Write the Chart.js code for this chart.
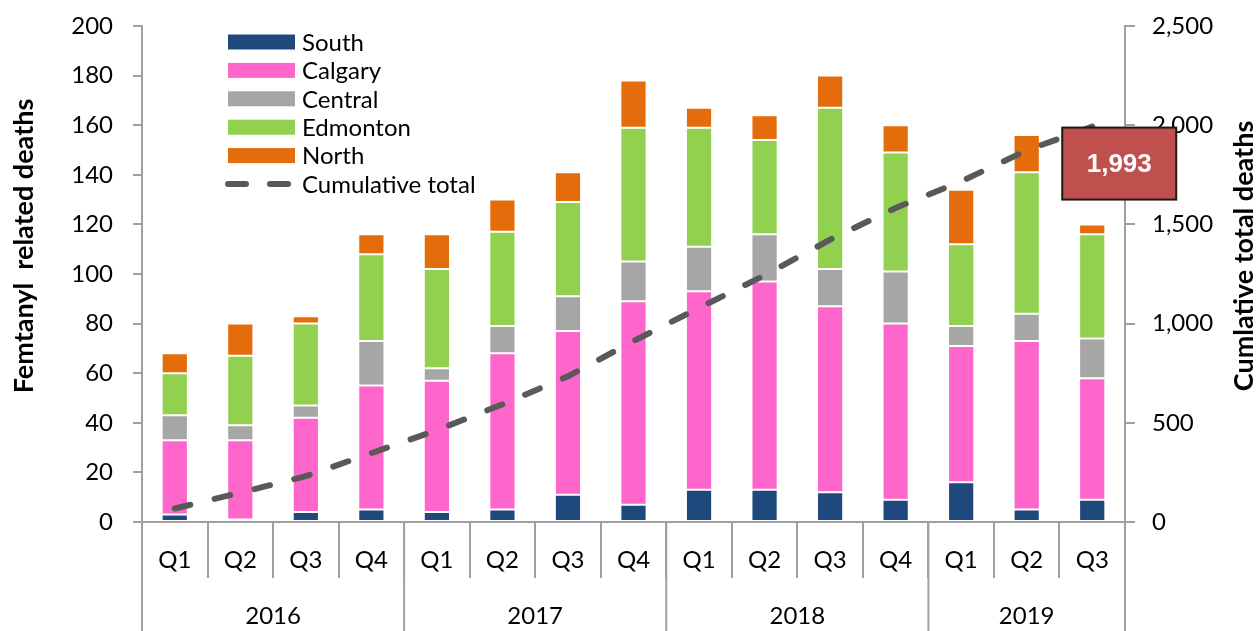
<!DOCTYPE html>
<html>
<head>
<meta charset="utf-8">
<script src="https://cdn.jsdelivr.net/npm/chart.js@4.4.0/dist/chart.umd.min.js"></script>
<style>
  html, body { margin: 0; padding: 0; background: #ffffff; }
  #wrap { width: 1256px; height: 631px; position: relative; }
</style>
</head>
<body>
<div id="wrap"><canvas id="c" width="1256" height="631"></canvas></div>
<script>
const quarters = ['Q1','Q2','Q3','Q4','Q1','Q2','Q3','Q4','Q1','Q2','Q3','Q4','Q1','Q2','Q3'];
const years = ['2016','2017','2018','2019'];
const yearSpans = [4, 4, 4, 3];
const south    = [3, 1, 4, 5, 4, 5, 11, 7, 13, 13, 12, 9, 16, 5, 9];
const calgary  = [30, 32, 38, 50, 53, 63, 66, 82, 80, 84, 75, 71, 55, 68, 49];
const central  = [10, 6, 5, 18, 5, 11, 14, 16, 18, 19, 15, 21, 8, 11, 16];
const edmonton = [17, 28, 33, 35, 40, 38, 38, 54, 48, 38, 65, 48, 33, 57, 42];
const north    = [8, 13, 3, 8, 14, 13, 12, 19, 8, 10, 13, 11, 22, 15, 4];
const cumulative = [68, 148, 231, 347, 463, 593, 734, 912, 1079, 1243, 1423, 1583, 1717, 1873, 1993];
const leftTicksMax = 200, leftStep = 20;
const rightTicksMax = 2500, rightStep = 500;
const leftTitle = 'Femtanyl  related deaths';
const rightTitle = 'Cumlative total deaths';

const FONT = 'Lato, "Open Sans", "DejaVu Sans", sans-serif';
const AXIS = '#A0A0A0';
const colors = {
  South: '#1F497D', Calgary: '#FF66CC', Central: '#A6A6A6', Edmonton: '#92D050', North: '#E46C0A', Line: '#595959'
};

const barDs = (label, data) => ({
  type: 'bar', label, data, backgroundColor: colors[label],
  borderColor: 'rgba(255,255,255,0.35)', borderWidth: 1, borderSkipped: false,
  yAxisID: 'y', stack: 's', order: 2, categoryPercentage: 1, barPercentage: 0.4
});

const legendPlugin = {
  id: 'customLegend',
  afterDraw(chart) {
    const ctx = chart.ctx;
    ctx.save();
    const items = [
      ['South', colors.South], ['Calgary', colors.Calgary], ['Central', colors.Central],
      ['Edmonton', colors.Edmonton], ['North', colors.North]
    ];
    const x0 = 228, y0 = 42, dy = 28.4;
    ctx.font = '24px ' + FONT;
    ctx.textBaseline = 'middle';
    ctx.fillStyle = '#000';
    items.forEach((it, i) => {
      const y = y0 + i * dy;
      ctx.fillStyle = it[1];
      ctx.fillRect(x0, y - 7.5, 67, 15);
      ctx.fillStyle = '#000';
      ctx.fillText(it[0], 302, y + 1);
    });
    const yl = y0 + 5 * dy;
    ctx.strokeStyle = colors.Line;
    ctx.lineWidth = 6;
    ctx.lineCap = 'round';
    ctx.beginPath(); ctx.moveTo(228, yl); ctx.lineTo(246, yl); ctx.stroke();
    ctx.beginPath(); ctx.moveTo(270, yl); ctx.lineTo(288, yl); ctx.stroke();
    ctx.fillText('Cumulative total', 302, yl + 1);
    ctx.restore();
  }
};

const decorPlugin = {
  id: 'decor',
  afterDraw(chart) {
    const ctx = chart.ctx;
    const xs = chart.scales.x;
    const ca = chart.chartArea;
    ctx.save();
    ctx.strokeStyle = AXIS;
    ctx.lineWidth = 2;
    const half = (xs.getPixelForValue(1) - xs.getPixelForValue(0)) / 2;
    let idx = 0;
    const bounds = [xs.getPixelForValue(0) - half];
    yearSpans.forEach(s => { idx += s; bounds.push(xs.getPixelForValue(idx - 1) + half); });
    bounds.forEach(b => {
      ctx.beginPath(); ctx.moveTo(b, ca.bottom); ctx.lineTo(b, 631); ctx.stroke();
    });
    ctx.font = '24px ' + FONT;
    ctx.fillStyle = '#000';
    ctx.textAlign = 'center';
    ctx.textBaseline = 'middle';
    years.forEach((y, i) => {
      ctx.fillText(y, (bounds[i] + bounds[i + 1]) / 2, 616);
    });
    // axis titles
    ctx.font = 'bold 27px ' + FONT;
    ctx.textBaseline = 'alphabetic';
    ctx.save();
    ctx.translate(33, 246);
    ctx.rotate(-Math.PI / 2);
    ctx.fillText(leftTitle, 0, 0);
    ctx.restore();
    ctx.save();
    ctx.translate(1253, 256);
    ctx.rotate(-Math.PI / 2);
    ctx.fillText(rightTitle, 0, 0);
    ctx.restore();
    // value box
    ctx.textBaseline = 'middle';
    const meta = chart.getDatasetMeta(5);
    const pt = meta.data[meta.data.length - 1];
    const bx = pt.x - 30, by = pt.y + 1, bw = 114, bh = 72;
    ctx.fillStyle = '#C0504D';
    ctx.fillRect(bx, by, bw, bh);
    ctx.strokeStyle = '#1a1a1a';
    ctx.lineWidth = 2;
    ctx.strokeRect(bx, by, bw, bh);
    ctx.fillStyle = '#ffffff';
    ctx.font = 'bold 26px "Liberation Sans", Arial, sans-serif';
    ctx.fillText(cumulative[cumulative.length - 1].toLocaleString('en-US'), bx + bw / 2, by + bh / 2 + 1);
    ctx.restore();
  }
};

new Chart(document.getElementById('c'), {
  data: {
    labels: quarters,
    datasets: [
      barDs('South', south),
      barDs('Calgary', calgary),
      barDs('Central', central),
      barDs('Edmonton', edmonton),
      barDs('North', north),
      {
        type: 'line', label: 'Cumulative total', data: cumulative, yAxisID: 'y2', order: 0,
        borderColor: colors.Line, borderWidth: 6, borderDash: [16, 25], borderCapStyle: 'round',
        pointRadius: 0, fill: false, tension: 0
      }
    ]
  },
  options: {
    responsive: false,
    animation: false,
    layout: { padding: { top: 26, left: 0, right: 0, bottom: 0 } },
    plugins: { legend: { display: false }, tooltip: { enabled: false }, title: { display: false } },
    scales: {
      x: {
        offset: true,
        grid: { display: true, drawOnChartArea: false, drawTicks: true, tickLength: 56, offset: true, color: AXIS, lineWidth: 2 },
        border: { display: true, color: AXIS, width: 2 },
        ticks: { color: '#000', font: { family: FONT, size: 24 }, padding: -32, maxRotation: 0, autoSkip: false },
        afterFit(s) { s.height = 109; s.paddingLeft = 0; s.paddingRight = 0; }
      },
      y: {
        position: 'left', stacked: true, min: 0, max: leftTicksMax,
        grid: { display: true, drawOnChartArea: false, drawTicks: true, tickLength: 9, color: AXIS, lineWidth: 2 },
        border: { display: true, color: AXIS, width: 2 },
        ticks: { stepSize: leftStep, color: '#000', font: { family: FONT, size: 24 }, padding: 20 },
        afterFit(s) { s.width = 142; s.paddingTop = 0; s.paddingBottom = 0; }
      },
      y2: {
        position: 'right', min: 0, max: rightTicksMax,
        grid: { display: true, drawOnChartArea: false, drawTicks: true, tickLength: 10, color: AXIS, lineWidth: 2 },
        border: { display: true, color: AXIS, width: 2 },
        ticks: { stepSize: rightStep, color: '#000', font: { family: FONT, size: 24 }, padding: 17 },
        afterFit(s) { s.width = 131; s.paddingTop = 0; s.paddingBottom = 0; }
      }
    }
  },
  plugins: [legendPlugin, decorPlugin]
});
</script>
</body>
</html>
